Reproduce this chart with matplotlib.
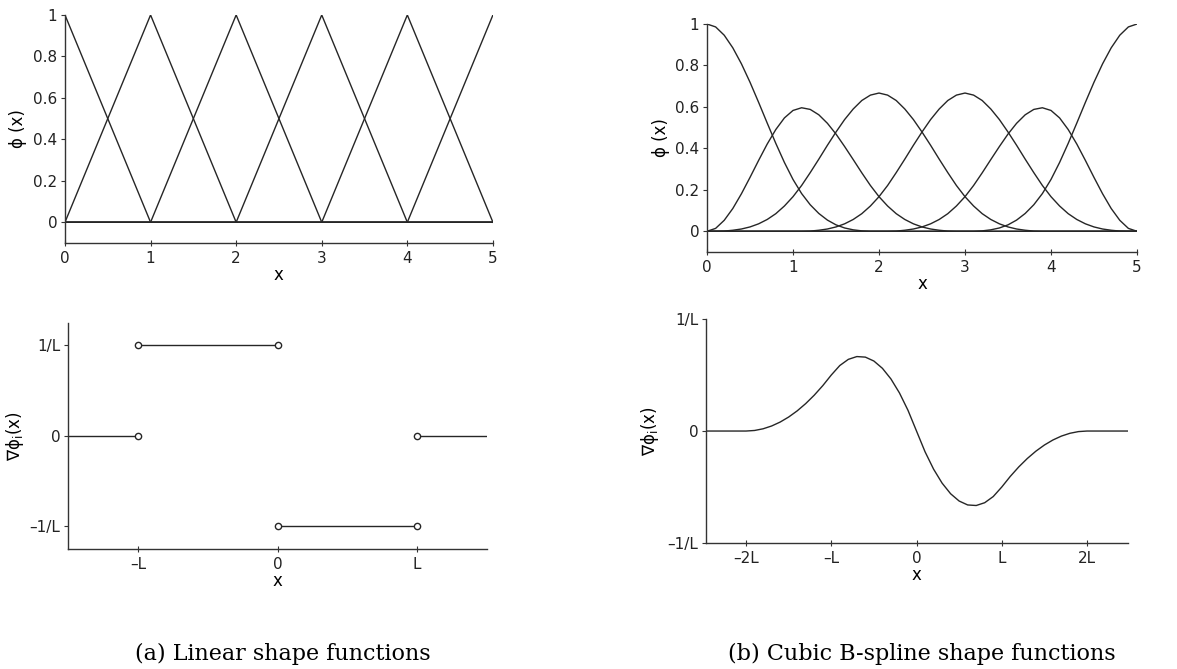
import numpy as np
import matplotlib
matplotlib.use("Agg")
import matplotlib.pyplot as plt

plt.rcParams['font.family'] = ['DejaVu Sans']
plt.rcParams['mathtext.fontset'] = 'dejavusans'

# ---- linear hat functions (nodal values) ----
lin_nodes = [0, 1, 2, 3, 4, 5]
lin_phi = [
    [1, 0, 0, 0, 0, 0],
    [0, 1, 0, 0, 0, 0],
    [0, 0, 1, 0, 0, 0],
    [0, 0, 0, 1, 0, 0],
    [0, 0, 0, 0, 1, 0],
    [0, 0, 0, 0, 0, 1],
]

# ---- gradient of linear shape function (piecewise constant) ----
grad_lin_edges = [-1.5, -1, 0, 1, 1.5]
grad_lin_vals = [0, 1, -1, 0]

# ---- cubic B-spline shape functions, sampled every 0.1 on [0, 5] ----
cub_x = np.linspace(0, 5, 51)
cub0 = [1.0, 0.986, 0.946, 0.885, 0.808, 0.719, 0.622, 0.522, 0.424, 0.332,
        0.25, 0.182, 0.128, 0.086, 0.054, 0.031, 0.016, 0.007, 0.002, 0.0,
        0.0] + [0.0] * 30
cub1 = [0.0, 0.014, 0.053, 0.110, 0.181, 0.260, 0.342, 0.421, 0.491, 0.547,
        0.583, 0.596, 0.588, 0.562, 0.521, 0.469, 0.409, 0.346, 0.282, 0.221,
        0.167, 0.122, 0.085, 0.057, 0.036, 0.021, 0.011, 0.005, 0.001, 0.0,
        0.0] + [0.0] * 20
cub2 = [0.0, 0.0, 0.001, 0.005, 0.011, 0.021, 0.036, 0.057, 0.085, 0.122,
        0.167, 0.221, 0.283, 0.348, 0.415, 0.479, 0.539, 0.590, 0.631, 0.657,
        0.667, 0.657, 0.631, 0.590, 0.539, 0.479, 0.415, 0.348, 0.283, 0.221,
        0.167, 0.122, 0.085, 0.057, 0.036, 0.021, 0.011, 0.005, 0.001, 0.0,
        0.0] + [0.0] * 10
cub3 = [0.0] * 10 + [
        0.0, 0.0, 0.001, 0.005, 0.011, 0.021, 0.036, 0.057, 0.085, 0.122,
        0.167, 0.221, 0.283, 0.348, 0.415, 0.479, 0.539, 0.590, 0.631, 0.657,
        0.667, 0.657, 0.631, 0.590, 0.539, 0.479, 0.415, 0.348, 0.283, 0.221,
        0.167, 0.122, 0.085, 0.057, 0.036, 0.021, 0.011, 0.005, 0.001, 0.0,
        0.0]
cub4 = [0.0] * 20 + [
        0.0, 0.0, 0.001, 0.005, 0.011, 0.021, 0.036, 0.057, 0.085, 0.122,
        0.167, 0.221, 0.282, 0.346, 0.409, 0.469, 0.521, 0.562, 0.588, 0.596,
        0.583, 0.547, 0.491, 0.421, 0.342, 0.260, 0.181, 0.110, 0.053, 0.014,
        0.0]
cub5 = [0.0] * 30 + [
        0.0, 0.0, 0.002, 0.007, 0.016, 0.031, 0.054, 0.086, 0.128, 0.182,
        0.25, 0.332, 0.424, 0.522, 0.622, 0.719, 0.808, 0.885, 0.946, 0.986,
        1.0]
cub_phi = [cub0, cub1, cub2, cub3, cub4, cub5]

# ---- gradient of cubic B-spline, sampled every 0.1 L on [-2.5L, 2.5L] ----
grad_cub_x = np.linspace(-2.5, 2.5, 51)
grad_cub = [0.0, 0.0, 0.0, 0.0, 0.0,
            0.0, 0.005, 0.02, 0.045, 0.08, 0.125, 0.18, 0.245, 0.32, 0.405,
            0.5, 0.585, 0.64, 0.665, 0.66, 0.625, 0.56, 0.465, 0.34, 0.185,
            0.0,
            -0.185, -0.34, -0.465, -0.56, -0.625, -0.66, -0.665, -0.64, -0.585,
            -0.5, -0.405, -0.32, -0.245, -0.18, -0.125, -0.08, -0.045, -0.02,
            -0.005, 0.0,
            0.0, 0.0, 0.0, 0.0, 0.0]

LC = '#262626'
LW = 1.0
TICK_FS = 11
LAB_FS = 12

fig = plt.figure(figsize=(11.77, 6.69), dpi=100)


def style(ax):
    ax.spines['top'].set_visible(False)
    ax.spines['right'].set_visible(False)
    for s in ('left', 'bottom'):
        ax.spines[s].set_color('#333333')
        ax.spines[s].set_linewidth(1.0)
    ax.tick_params(axis='y', direction='out', length=3, width=0.8, pad=2.5,
                   colors='#333333', labelsize=TICK_FS, labelcolor='#222222')
    ax.tick_params(axis='x', direction='inout', length=5, width=0.8,
                   colors='#333333', labelsize=TICK_FS, labelcolor='#222222')


# (a) top: linear shape functions
ax1 = fig.add_axes([0.0552, 0.6368, 0.3636, 0.3408])
for p in lin_phi:
    ax1.plot(lin_nodes, p, color=LC, lw=LW)
ax1.set_xlim(0, 5)
ax1.set_ylim(-0.1, 1.0)
ax1.set_xticks([0, 1, 2, 3, 4, 5])
ax1.set_yticks([0, 0.2, 0.4, 0.6, 0.8, 1])
ax1.set_yticklabels(['0', '0.2', '0.4', '0.6', '0.8', '1'])
ax1.set_xlabel('x', fontsize=LAB_FS, labelpad=0)
ax1.set_ylabel('ϕ (x)', fontsize=LAB_FS)
ax1.yaxis.set_label_coords(-0.088, 0.5)
style(ax1)

# (a) bottom: gradient of linear shape function
ax2 = fig.add_axes([0.0578, 0.1794, 0.356, 0.338])
for k in range(len(grad_lin_vals)):
    ax2.plot(grad_lin_edges[k:k + 2], [grad_lin_vals[k]] * 2, color=LC, lw=LW)
for k in range(len(grad_lin_vals)):
    xs = []
    if k > 0:
        xs.append(grad_lin_edges[k])
    if k < len(grad_lin_vals) - 1:
        xs.append(grad_lin_edges[k + 1])
    ax2.plot(xs, [grad_lin_vals[k]] * len(xs), 'o', ms=4.5, mfc='white',
             mec=LC, mew=1.0, zorder=3)
ax2.set_xlim(-1.5, 1.5)
ax2.set_ylim(-1.25, 1.25)
ax2.set_xticks([-1, 0, 1])
ax2.set_xticklabels(['\u2013L', '0', 'L'])
ax2.set_yticks([-1, 0, 1])
ax2.set_yticklabels(['\u20131/L', '0', '1/L'])
ax2.set_xlabel('x', fontsize=LAB_FS, labelpad=0)
ax2.set_ylabel('∇ϕ$_\\mathrm{i}$(x)', fontsize=LAB_FS)
ax2.yaxis.set_label_coords(-0.1, 0.5)
style(ax2)

# (b) top: cubic B-spline shape functions
ax3 = fig.add_axes([0.6007, 0.6233, 0.3653, 0.3408])
for c in cub_phi:
    ax3.plot(cub_x, c, color=LC, lw=LW)
ax3.set_xlim(0, 5)
ax3.set_ylim(-0.1, 1.0)
ax3.set_xticks([0, 1, 2, 3, 4, 5])
ax3.set_yticks([0, 0.2, 0.4, 0.6, 0.8, 1])
ax3.set_yticklabels(['0', '0.2', '0.4', '0.6', '0.8', '1'])
ax3.set_xlabel('x', fontsize=LAB_FS, labelpad=0)
ax3.set_ylabel('ϕ (x)', fontsize=LAB_FS)
ax3.yaxis.set_label_coords(-0.086, 0.5)
style(ax3)

# (b) bottom: gradient of cubic B-spline
ax4 = fig.add_axes([0.5998, 0.1883, 0.3585, 0.3348])
ax4.plot(grad_cub_x, grad_cub, color=LC, lw=LW)
ax4.set_xlim(-2.47, 2.48)
ax4.set_ylim(-1, 1)
ax4.set_xticks([-2, -1, 0, 1, 2])
ax4.set_xticklabels(['\u20132L', '\u2013L', '0', 'L', '2L'])
ax4.set_yticks([-1, 0, 1])
ax4.set_yticklabels(['\u20131/L', '0', '1/L'])
ax4.set_xlabel('x', fontsize=LAB_FS, labelpad=0)
ax4.set_ylabel('∇ϕ$_\\mathrm{i}$(x)', fontsize=LAB_FS)
ax4.yaxis.set_label_coords(-0.107, 0.5)
style(ax4)

fig.text(0.240, 0.0135, '(a) Linear shape functions', ha='center',
         va='baseline', fontsize=16, family='DejaVu Serif')
fig.text(0.7835, 0.0135, '(b) Cubic B-spline shape functions', ha='center',
         va='baseline', fontsize=16, family='DejaVu Serif')

fig.savefig('out.png', dpi=100)
